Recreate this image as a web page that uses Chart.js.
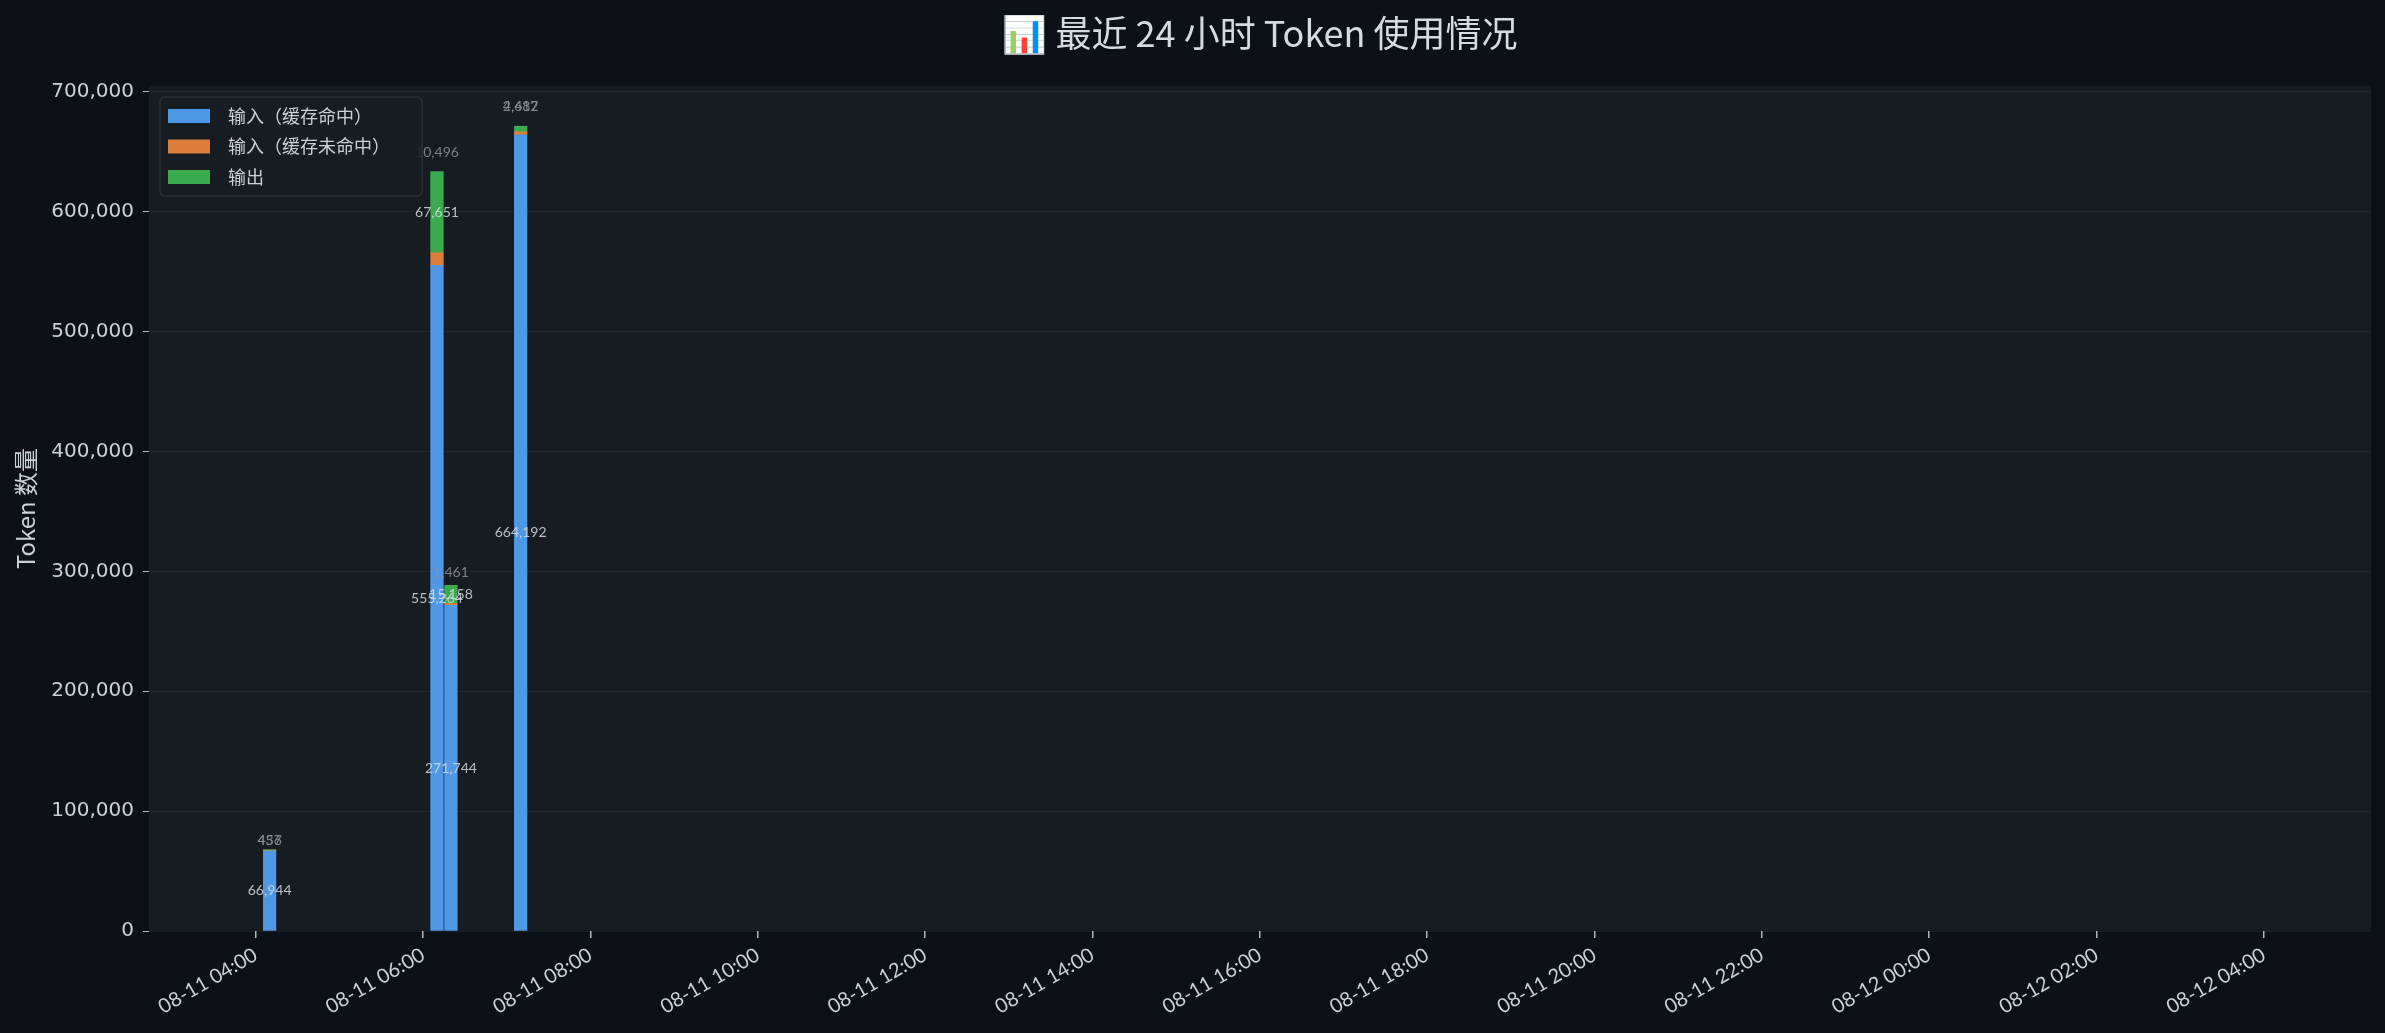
<!DOCTYPE html>
<html>
<head>
<meta charset="utf-8">
<script src="https://cdn.jsdelivr.net/npm/chart.js@4.4.1/dist/chart.umd.min.js"></script>
<style>
  html, body { margin: 0; padding: 0; background: #0d1117; }
  #wrap { width: 2385px; height: 1033px; }
</style>
</head>
<body>
<div id="wrap"><canvas id="usageChart" width="2385" height="1033"></canvas></div>
<script>
// Data: 10-minute buckets, minutes since 08-11 00:00
const bucketMinutes = [250, 370, 380, 430];
const cacheHit = [66944, 555264, 271744, 664192];
const cacheMiss = [457, 10496, 1461, 2482];
const outputTokens = [436, 67651, 15158, 4617];
const seriesNames = ['输入（缓存命中）', '输入（缓存未命中）', '输出'];
const seriesColors = ['#4f98e6', '#dc7d3b', '#3aac4e'];
const xTickMinutes = [240, 360, 480, 600, 720, 840, 960, 1080, 1200, 1320, 1440, 1560, 1680];
const xTickLabels = ['08-11 04:00', '08-11 06:00', '08-11 08:00', '08-11 10:00', '08-11 12:00',
    '08-11 14:00', '08-11 16:00', '08-11 18:00', '08-11 20:00', '08-11 22:00',
    '08-12 00:00', '08-12 02:00', '08-12 04:00'];
const yTickValues = [0, 100000, 200000, 300000, 400000, 500000, 600000, 700000];
const titleText = '📊 最近 24 小时 Token 使用情况';
const yTitle = 'Token 数量';

const series = [cacheHit, cacheMiss, outputTokens];
const totals = bucketMinutes.map((_, i) => series.reduce((s, arr) => s + arr[i], 0));
const maxTotal = Math.max(...totals);

const LATIN = 'Lato, "Noto Sans CJK SC", sans-serif';
const CJK = '"Noto Sans CJK SC", "DejaVu Sans", sans-serif';

const fmt = v => v.toLocaleString('en-US');

// Background: figure + plot area
const bgPlugin = {
    id: 'bg',
    beforeDraw(chart) {
        const { ctx, chartArea: a } = chart;
        ctx.save();
        ctx.fillStyle = '#0d1117';
        ctx.fillRect(0, 0, chart.width, chart.height);
        ctx.fillStyle = '#171b22';
        ctx.fillRect(a.left, a.top, a.right - a.left, a.bottom - a.top);
        ctx.restore();
    }
};

// Value labels on segments; small ones go above the bar
const labelPlugin = {
    id: 'segLabels',
    afterDatasetsDraw(chart) {
        const { ctx } = chart;
        const x = chart.scales.x, y = chart.scales.y;
        ctx.save();
        ctx.font = '14px ' + LATIN;
        ctx.textAlign = 'center';
        ctx.textBaseline = 'middle';
        bucketMinutes.forEach((m, i) => {
            const px = x.getPixelForValue(m);
            let base = 0;
            series.forEach(arr => {
                const v = arr[i];
                if (v >= maxTotal * 0.02) {
                    ctx.fillStyle = 'rgba(214,220,226,0.85)';
                    ctx.fillText(fmt(v), px, y.getPixelForValue(base + v / 2));
                } else {
                    ctx.fillStyle = 'rgba(139,146,154,0.85)';
                    ctx.fillText(fmt(v), px, y.getPixelForValue(totals[i] * 1.015) - 8);
                }
                base += v;
            });
        });
        ctx.restore();
    }
};

// Title, y-axis title and legend
const decorPlugin = {
    id: 'decor',
    afterDraw(chart) {
        const { ctx, chartArea: a } = chart;
        ctx.save();
        ctx.fillStyle = '#d5dbe1';
        ctx.textAlign = 'center';
        ctx.textBaseline = 'middle';
        ctx.font = '36px ' + CJK;
        ctx.fillText(titleText, (a.left + a.right) / 2, 33);

        ctx.translate(26, (a.top + a.bottom) / 2);
        ctx.rotate(-Math.PI / 2);
        ctx.font = '24px ' + CJK;
        ctx.fillStyle = '#c9d1d9';
        ctx.fillText(yTitle, 0, 0);
        ctx.restore();

        // legend box
        ctx.save();
        const lx = 160, ly = 97, lw = 262, lh = 99;
        ctx.beginPath();
        ctx.roundRect(lx, ly, lw, lh, 5);
        ctx.fillStyle = 'rgba(23,27,34,0.85)';
        ctx.fill();
        ctx.strokeStyle = 'rgba(255,255,255,0.09)';
        ctx.lineWidth = 1.5;
        ctx.stroke();
        ctx.font = '18px ' + CJK;
        ctx.textAlign = 'left';
        ctx.textBaseline = 'middle';
        seriesNames.forEach((name, j) => {
            const cy = 116 + j * 30.5;
            ctx.fillStyle = seriesColors[j];
            ctx.fillRect(168, cy - 7, 42, 14);
            ctx.fillStyle = '#c9d1d9';
            ctx.fillText(name, 228, cy);
        });
        ctx.restore();
    }
};

const ctx = document.getElementById('usageChart').getContext('2d');
const usageChart = new Chart(ctx, {
    type: 'bar',
    data: {
        datasets: series.map((arr, j) => ({
            label: seriesNames[j],
            data: bucketMinutes.map((m, i) => ({ x: m, y: arr[i] })),
            backgroundColor: seriesColors[j],
            borderWidth: 0,
            barThickness: 12.6
        }))
    },
    options: {
        responsive: false,
        animation: false,
        devicePixelRatio: 1,
        layout: { padding: { top: 86, right: 14, left: 0, bottom: 0 } },
        plugins: {
            legend: { display: false },
            title: { display: false },
            tooltip: { enabled: false }
        },
        scales: {
            x: {
                type: 'linear',
                stacked: true,
                offset: false,
                min: 163.5,
                max: 1756.8,
                afterBuildTicks: s => { s.ticks = xTickMinutes.map(v => ({ value: v })); },
                afterFit: s => { s.height = 102; },
                ticks: {
                    callback: (v, idx) => xTickLabels[idx],
                    minRotation: 30,
                    maxRotation: 30,
                    autoSkip: false,
                    padding: 5,
                    color: '#c9d1d9',
                    font: { family: LATIN, size: 20 }
                },
                grid: { offset: false, drawOnChartArea: false, tickLength: 7, tickColor: '#b0b8c0', lineWidth: 1.5 },
                border: { display: false }
            },
            y: {
                stacked: true,
                min: 0,
                max: maxTotal * 1.05,
                afterBuildTicks: s => { s.ticks = yTickValues.map(v => ({ value: v })); },
                afterFit: s => { s.width = 149; },
                ticks: {
                    callback: v => fmt(v),
                    padding: 9,
                    color: '#c9d1d9',
                    font: { family: '"DejaVu Sans", sans-serif', size: 20 }
                },
                grid: { color: 'rgba(255,255,255,0.05)', tickLength: 6, tickColor: '#b0b8c0', lineWidth: 1 },
                border: { display: false }
            }
        }
    },
    plugins: [bgPlugin, labelPlugin, decorPlugin]
});
</script>
</body>
</html>
